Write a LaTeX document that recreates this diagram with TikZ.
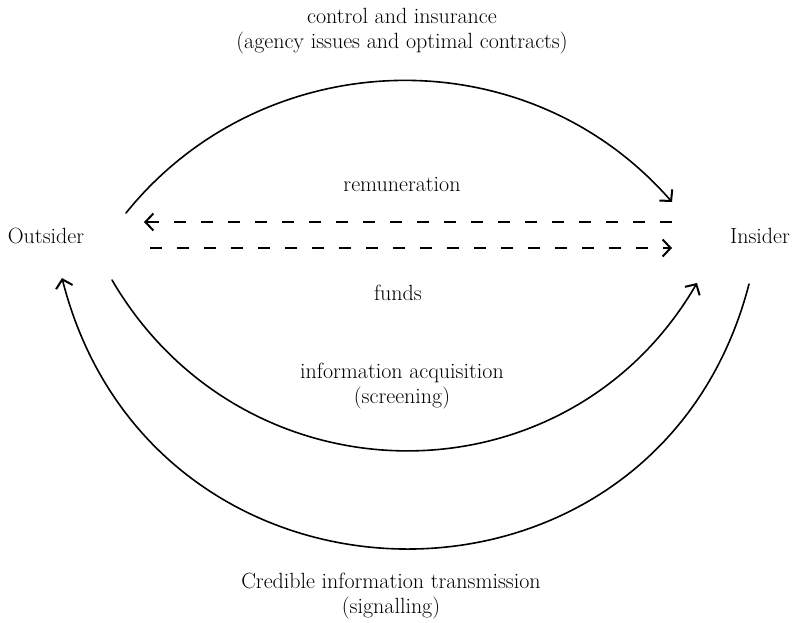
\documentclass[tikz,border=0pt]{standalone}
\usetikzlibrary{arrows.meta}
\begin{document}
\begin{tikzpicture}[x=1pt,y=-1pt,
  lbl/.style={font=\fontsize{22}{25.5}\selectfont, align=center, inner sep=0pt},
  flow/.style={line width=1.6pt, line cap=round},
  tip/.style={-{Straight Barb[length=8pt,width=17pt,line width=2pt]}},
  money/.style={line width=1.8pt, dash pattern=on 12pt off 15pt}]
\useasboundingbox (0,0) rectangle (795,622);
% labels
\node[lbl] (out) at (46,236) {Outsider};
\node[lbl] (ins) at (760,236) {Insider};
\node[lbl] (ctrl) at (402,31) {control and insurance\\(agency issues and optimal contracts)};
\node[lbl] (rem) at (402,184) {remuneration};
\node[lbl] (fun) at (398,293) {funds};
\node[lbl] (acq) at (402,386) {information acquisition\\(screening)};
\node[lbl] (sig) at (391,596) {Credible information transmission\\(signalling)};
% end points
\coordinate (t1) at (126,213);
\coordinate (t2) at (672,202);
\coordinate (r1) at (672,222);
\coordinate (r2) at (144,222);
\coordinate (f1) at (150,248);
\coordinate (f2) at (672,248);
\coordinate (a1) at (112,280);
\coordinate (a2) at (697,283);
\coordinate (s1) at (749,284);
\coordinate (s2) at (62,278);
% arcs
\draw[flow,tip] (t1) .. controls (262,44) and (524,33) .. (t2);
\draw[flow,tip] (a1) .. controls (244,506) and (566,508) .. (a2);
\draw[flow,tip] (s1) .. controls (657,640) and (153,636) .. (s2);
% dashed flows
\draw[money,tip] (r1) -- (r2);
\draw[money,tip] (f1) -- (f2);
\end{tikzpicture}
\end{document}
